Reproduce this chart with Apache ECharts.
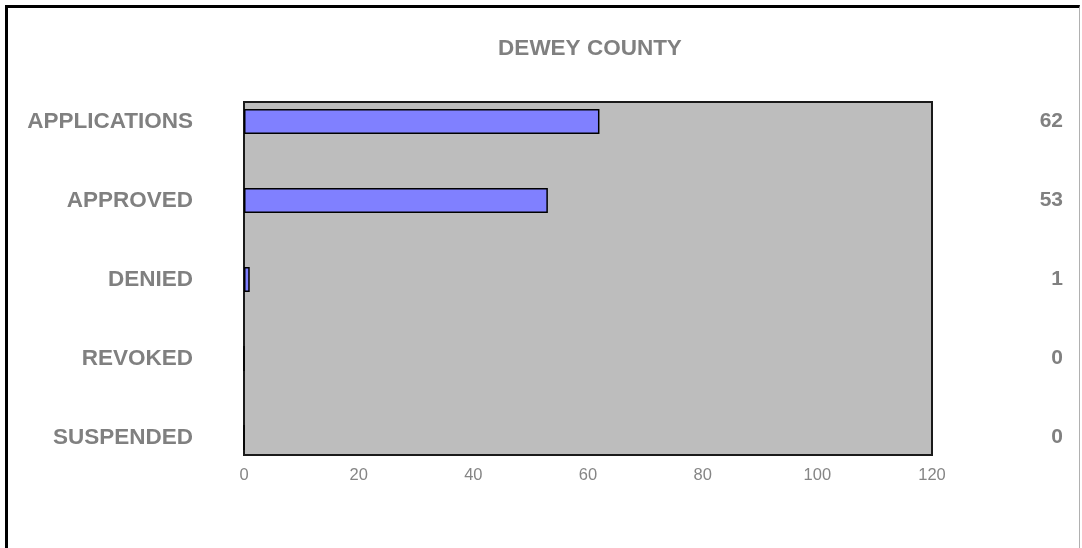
<!DOCTYPE html>
<html>
<head>
<meta charset="utf-8">
<script src="https://cdn.jsdelivr.net/npm/echarts@6/dist/echarts.min.js"></script>
<style>
  html, body { margin: 0; padding: 0; background: #fff; }
  #frame { position: absolute; left: 5px; top: 5px; width: 1071px; height: 560px;
           border-left: 3px solid #000; border-top: 3px solid #000; border-right: 1px solid #b0b0b0; }
  #chart { position: absolute; left: 0; top: 0; width: 1082px; height: 548px; }
</style>
</head>
<body>
<div id="frame"></div>
<div id="chart"></div>
<script>
const titleText = 'DEWEY COUNTY';
const categories = ['APPLICATIONS', 'APPROVED', 'DENIED', 'REVOKED', 'SUSPENDED'];
const values = [62, 53, 1, 0, 0];
const valueLabels = ['62', '53', '1', '0', '0'];
const xTicks = [0, 20, 40, 60, 80, 100, 120];

const chart = echarts.init(document.getElementById('chart'), null, { renderer: 'canvas' });
const gray = '#808080';
const option = {
  animation: false,
  backgroundColor: 'transparent',
  title: {
    text: titleText,
    left: 590,
    textAlign: 'center',
    top: 37,
    padding: 0,
    textStyle: { fontFamily: 'Liberation Sans, Arial, sans-serif', fontWeight: 'bold', fontSize: 22.5, color: gray }
  },
  grid: [
    { left: 244, right: 150, top: 102, bottom: 93, show: true, backgroundColor: '#bdbdbd',
      borderColor: '#1a1a1a', borderWidth: 2, containLabel: false, z: 0 },
    { left: 244, right: 150, top: 82, height: 395, show: false, containLabel: false }
  ],
  xAxis: [
    { type: 'value', gridIndex: 0, min: xTicks[0], max: xTicks[xTicks.length - 1], interval: 20,
      axisLine: { show: false }, axisTick: { show: false }, splitLine: { show: false },
      axisLabel: { margin: 12, color: '#858585', fontSize: 16.5,
        fontFamily: "'Liberation Sans', Arial, sans-serif" } },
    { type: 'value', gridIndex: 1, min: xTicks[0], max: xTicks[xTicks.length - 1], show: false }
  ],
  yAxis: [
    { type: 'category', gridIndex: 0, show: false, data: categories },
    { type: 'category', gridIndex: 1, data: categories, inverse: true, position: 'left',
      axisLine: { show: false }, axisTick: { show: false }, splitLine: { show: false },
      axisLabel: { margin: 51, color: gray, fontSize: 22.5, fontWeight: 'bold',
        fontFamily: 'Liberation Sans, Arial, sans-serif' } },
    { type: 'category', gridIndex: 1, data: valueLabels, inverse: true, position: 'right',
      axisLine: { show: false }, axisTick: { show: false }, splitLine: { show: false },
      axisLabel: { margin: 131, align: 'right', color: gray, fontSize: 21, fontWeight: 'bold',
        fontFamily: 'Liberation Sans, Arial, sans-serif' } }
  ],
  series: [
    { type: 'bar', xAxisIndex: 1, yAxisIndex: 1, data: values, barWidth: 25, z: 5,
      itemStyle: { color: '#8080ff', borderColor: '#000', borderWidth: 1.5 } }
  ]
};
chart.setOption(option);
</script>
</body>
</html>
